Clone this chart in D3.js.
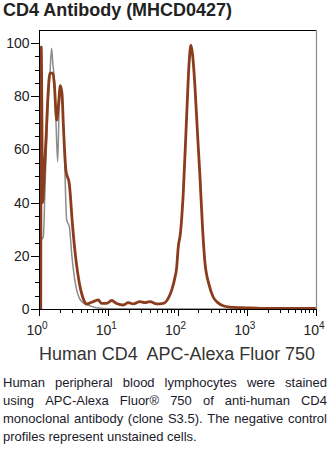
<!DOCTYPE html>
<html>
<head>
<meta charset="utf-8">
<script src="https://cdn.jsdelivr.net/npm/d3@7"></script>
<style>
  html, body { margin: 0; padding: 0; background: #fff; }
  svg { display: block; }
  text { font-family: "Liberation Sans", Arial, sans-serif; }
</style>
</head>
<body>
<svg id="chart" width="331" height="450"></svg>
<script>
// ---- data ----
const title = "CD4 Antibody (MHCD0427)";
const xAxisTitle = "Human CD4  APC-Alexa Fluor 750";
const yTickValues = [0, 20, 40, 60, 80, 100];
const xTickExponents = [0, 1, 2, 3, 4];
const captionLines = [
  "Human peripheral blood lymphocytes were stained",
  "using APC-Alexa Fluor\u00AE 750 of anti-human CD4",
  "monoclonal antibody (clone S3.5). The negative control",
  "profiles represent unstained cells."
];

// stained (brown) histogram: fluorescence intensity, % of max
const stainedX = [1.06, 1.076, 1.13, 1.19, 1.26, 1.36, 1.44, 1.58, 1.66, 1.80, 1.92, 2.03, 2.15, 2.24, 2.45, 2.74, 3.06, 3.42, 3.82, 4.27, 4.88, 6.08, 7.17, 8.03, 9.48, 11.2, 13.2, 16.5, 19.4, 22.9, 28.7, 33.9, 40.0, 49.9, 62.2, 73.4, 82.2, 91.7, 97.1, 102.3, 110.8, 120.8, 135.3, 147.5, 156.2, 165.2, 178.3, 195, 210.4, 230, 248.5, 286.6, 327.5, 386.5, 456.4, 570, 795, 1109, 2154, 9930];
const stainedY = [0, 98.5, 40, 51, 63.5, 82, 88.7, 88.7, 85, 71, 77.4, 84, 81, 70, 52, 47, 31, 18.4, 9.8, 4.5, 1.9, 2.8, 3.4, 2.1, 2.1, 3.2, 2.1, 1.5, 2.4, 1.9, 2.8, 2.4, 2.8, 1.9, 2.1, 4, 7, 11.7, 15.4, 23, 29, 43, 72, 93, 99.2, 95.5, 84, 65.4, 50.4, 30.5, 17.7, 9, 4.5, 2.3, 1.2, 0.7, 0.5, 0.4, 0.2, 0.2];

// unstained control (gray) histogram
const controlX = [1.06, 1.069, 1.153, 1.22, 1.29, 1.35, 1.44, 1.52, 1.58, 1.66, 1.76, 1.86, 1.96, 2.08, 2.20, 2.32, 2.51, 2.74, 2.99, 3.34, 3.82, 4.50, 5.44, 6.65, 10.6, 9930];
const controlY = [0, 26, 27, 45, 63.5, 77, 88.7, 98, 92.5, 87, 70, 55.4, 76, 82, 76, 60, 33.5, 31, 19.7, 9.8, 4.1, 2.0, 1.2, 0.5, 0.1, 0];

// ---- layout ----
const svg = d3.select("#chart");
const x = d3.scaleLog().domain([1, 10000]).range([39, 316]);
const y = d3.scaleLinear().domain([0, 100]).range([309, 43]);
const yTop = 30;

// title
svg.append("text")
  .attr("x", 3).attr("y", 16)
  .attr("font-size", 18).attr("font-weight", "bold")
  .attr("fill", "#222")
  .attr("textLength", 229).attr("lengthAdjust", "spacingAndGlyphs")
  .text(title);

// frame: top black, right gray
svg.append("line").attr("x1", 39).attr("x2", 317).attr("y1", yTop + 0.5).attr("y2", yTop + 0.5)
  .attr("stroke", "#000").attr("stroke-width", 1);
svg.append("line").attr("x1", 316.5).attr("x2", 316.5).attr("y1", yTop).attr("y2", 309)
  .attr("stroke", "#888").attr("stroke-width", 1.2);

// curves
const line = d3.line().x(d => x(d[0])).y(d => y(d[1])).curve(d3.curveMonotoneX);
const controlData = controlX.map((v, i) => [v, controlY[i]]);
const stainedData = stainedX.map((v, i) => [v, stainedY[i]]);

svg.append("path").datum(controlData).attr("d", line)
  .attr("fill", "none").attr("stroke", "#8c8c8c").attr("stroke-width", 1.5)
  .attr("stroke-linejoin", "round");
svg.append("path").datum(stainedData).attr("d", line)
  .attr("fill", "none").attr("stroke", "#8b3c1c").attr("stroke-width", 2.8)
  .attr("stroke-linejoin", "round");

// y axis
const yAxisG = svg.append("g");
yAxisG.append("line").attr("x1", 39.5).attr("x2", 39.5).attr("y1", yTop).attr("y2", 309.5)
  .attr("stroke", "#000").attr("stroke-width", 1);
const yMinor = d3.range(5, 101, 5).filter(v => v % 20 !== 0);
yAxisG.selectAll(".ymin").data(yMinor).enter().append("line")
  .attr("x1", 35).attr("x2", 39.5)
  .attr("y1", d => Math.round(y(d)) + 0.5).attr("y2", d => Math.round(y(d)) + 0.5)
  .attr("stroke", "#000").attr("stroke-width", 1);
yAxisG.selectAll(".ymaj").data(yTickValues).enter().append("line")
  .attr("x1", 31).attr("x2", 39.5)
  .attr("y1", d => Math.round(y(d)) + 0.5).attr("y2", d => Math.round(y(d)) + 0.5)
  .attr("stroke", "#000").attr("stroke-width", 1);
yAxisG.selectAll(".ylab").data(yTickValues).enter().append("text")
  .attr("x", 29.5).attr("y", d => y(d) + 5)
  .attr("text-anchor", "end").attr("font-size", 14).attr("fill", "#222")
  .text(d => d);

// x axis
const xAxisG = svg.append("g");
xAxisG.append("line").attr("x1", 39).attr("x2", 317).attr("y1", 309.5).attr("y2", 309.5)
  .attr("stroke", "#000").attr("stroke-width", 1);
const xMinor = [];
for (let k = 0; k < 4; k++) for (let m = 2; m <= 9; m++) xMinor.push(m * Math.pow(10, k));
xAxisG.selectAll(".xmin").data(xMinor).enter().append("line")
  .attr("x1", d => Math.round(x(d)) + 0.5).attr("x2", d => Math.round(x(d)) + 0.5)
  .attr("y1", 309).attr("y2", 313)
  .attr("stroke", "#000").attr("stroke-width", 1);
xAxisG.selectAll(".xmaj").data(xTickExponents).enter().append("line")
  .attr("x1", d => Math.round(x(Math.pow(10, d))) + 0.5).attr("x2", d => Math.round(x(Math.pow(10, d))) + 0.5)
  .attr("y1", 309).attr("y2", 316)
  .attr("stroke", "#000").attr("stroke-width", 1);
const xl = xAxisG.selectAll(".xlab").data(xTickExponents).enter().append("text")
  .attr("x", d => x(Math.pow(10, d)) - 2).attr("y", 335)
  .attr("text-anchor", "middle").attr("font-size", 14).attr("fill", "#222");
xl.append("tspan").text("10");
xl.append("tspan").attr("font-size", 10).attr("dy", -6).text(d => d);

// x axis title
svg.append("text")
  .attr("x", 39).attr("y", 360)
  .attr("font-size", 17.5).attr("fill", "#333")
  .style("white-space", "pre")
  .attr("textLength", 276).attr("lengthAdjust", "spacingAndGlyphs")
  .text(xAxisTitle);

// caption, justified
const capLeft = 3, capRight = 327, capSize = 13;
const capBase = [387, 405, 423, 441];
captionLines.forEach((ln, i) => {
  const words = ln.split(" ");
  const g = svg.append("text").attr("font-size", capSize).attr("fill", "#1a1a2a")
    .attr("y", capBase[i]);
  if (i === captionLines.length - 1) {
    g.attr("x", capLeft).text(ln);
    return;
  }
  const widths = words.map(w => {
    const t = svg.append("text").attr("font-size", capSize).text(w);
    const wd = t.node().getComputedTextLength();
    t.remove();
    return wd;
  });
  const total = d3.sum(widths);
  const gap = (capRight - capLeft - total) / (words.length - 1);
  let cx = capLeft;
  words.forEach((w, j) => {
    g.append("tspan").attr("x", cx).text(w);
    cx += widths[j] + gap;
  });
});
</script>
</body>
</html>
